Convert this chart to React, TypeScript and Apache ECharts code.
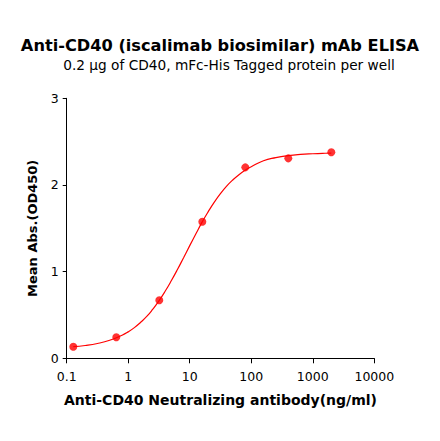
import React, { useEffect, useRef } from "react";
import * as echarts from "echarts";

// Measured data points (concentration in ng/ml, mean OD450)
const concentrations = [0.128, 0.64, 3.2, 16, 80, 400, 2000];
const odValues = [0.134, 0.242, 0.669, 1.576, 2.203, 2.307, 2.377];

// Fitted curve
const curveConc = [
  0.128, 0.2, 0.316, 0.5, 0.794, 1, 1.26, 1.58, 2, 2.51, 3.16, 3.98, 5.01, 6.31,
  7.94, 10, 12.6, 15.8, 20, 25.1, 31.6, 39.8, 50.1, 63.1, 79.4, 100, 158, 251,
  398, 631, 1000, 1585, 2000,
];
const curveOD = [
  0.134, 0.148, 0.171, 0.208, 0.266, 0.305, 0.354, 0.413, 0.483, 0.567, 0.663,
  0.773, 0.894, 1.024, 1.161, 1.3, 1.437, 1.568, 1.692, 1.802, 1.9, 1.986,
  2.058, 2.119, 2.169, 2.21, 2.28, 2.315, 2.338, 2.352, 2.36, 2.366, 2.368,
];

const titleText = "Anti-CD40 (iscalimab biosimilar) mAb ELISA";
const subtitleText = "0.2 μg of CD40, mFc-His Tagged protein per well";
const xAxisName = "Anti-CD40 Neutralizing antibody(ng/ml)";
const yAxisName = "Mean Abs.(OD450)";

const FONT = "'DejaVu Sans', 'Liberation Sans', Arial, sans-serif";

export default function App() {
  const ref = useRef<HTMLDivElement>(null);

  useEffect(() => {
    document.body.style.margin = "0";
    if (!ref.current) return;
    const chart = echarts.init(ref.current, null, { renderer: "svg" });
    chart.setOption({
      animation: false,
      backgroundColor: "#ffffff",
      textStyle: { fontFamily: FONT },
      title: [
        {
          text: titleText,
          left: "center",
          top: 32,
          textStyle: { fontSize: 16.2, fontWeight: "bold", color: "#000", fontFamily: FONT },
        },
        {
          text: subtitleText,
          left: 224,
          textAlign: "center",
          top: 53,
          textStyle: { fontSize: 13.7, fontWeight: "normal", color: "#000", fontFamily: FONT },
        },
      ],
      grid: {
        left: 66.7,
        right: 65.7,
        top: 98.3,
        bottom: 82.7,
        containLabel: false,
      },
      xAxis: {
        type: "log",
        logBase: 10,
        min: 0.1,
        max: 10000,
        name: xAxisName,
        nameLocation: "middle",
        nameGap: 35,
        nameTextStyle: { fontSize: 14, fontWeight: "bold", color: "#000", fontFamily: FONT },
        axisLine: { show: true, lineStyle: { color: "#000", width: 1 } },
        axisTick: { show: true, length: 5, lineStyle: { color: "#000" } },
        minorTick: { show: false },
        splitLine: { show: false },
        axisLabel: {
          fontSize: 12.5,
          color: "#000",
          margin: 12,
          fontFamily: FONT,
          formatter: (v: number) => String(Number(v.toPrecision(6))),
        },
      },
      yAxis: {
        type: "value",
        min: 0,
        max: 3,
        interval: 1,
        name: yAxisName,
        nameLocation: "middle",
        nameGap: 28,
        nameTextStyle: { fontSize: 13, fontWeight: "bold", color: "#000", fontFamily: FONT },
        axisLine: { show: true, lineStyle: { color: "#000", width: 1 } },
        axisTick: { show: true, length: 4, lineStyle: { color: "#000" } },
        splitLine: { show: false },
        axisLabel: { fontSize: 12.5, color: "#000", margin: 8, fontFamily: FONT },
      },
      series: [
        {
          type: "line",
          data: curveConc.map((x, i) => [x, curveOD[i]]),
          smooth: true,
          showSymbol: false,
          symbol: "none",
          lineStyle: { color: "#ff0000", width: 1.2 },
          z: 2,
        },
        {
          type: "scatter",
          data: concentrations.map((x, i) => [x, odValues[i]]),
          symbol: "circle",
          symbolSize: 8,
          itemStyle: { color: "#ff0000" },
          z: 3,
        },
      ],
    });
    return () => chart.dispose();
  }, []);

  return <div ref={ref} style={{ width: 440, height: 441 }} />;
}
